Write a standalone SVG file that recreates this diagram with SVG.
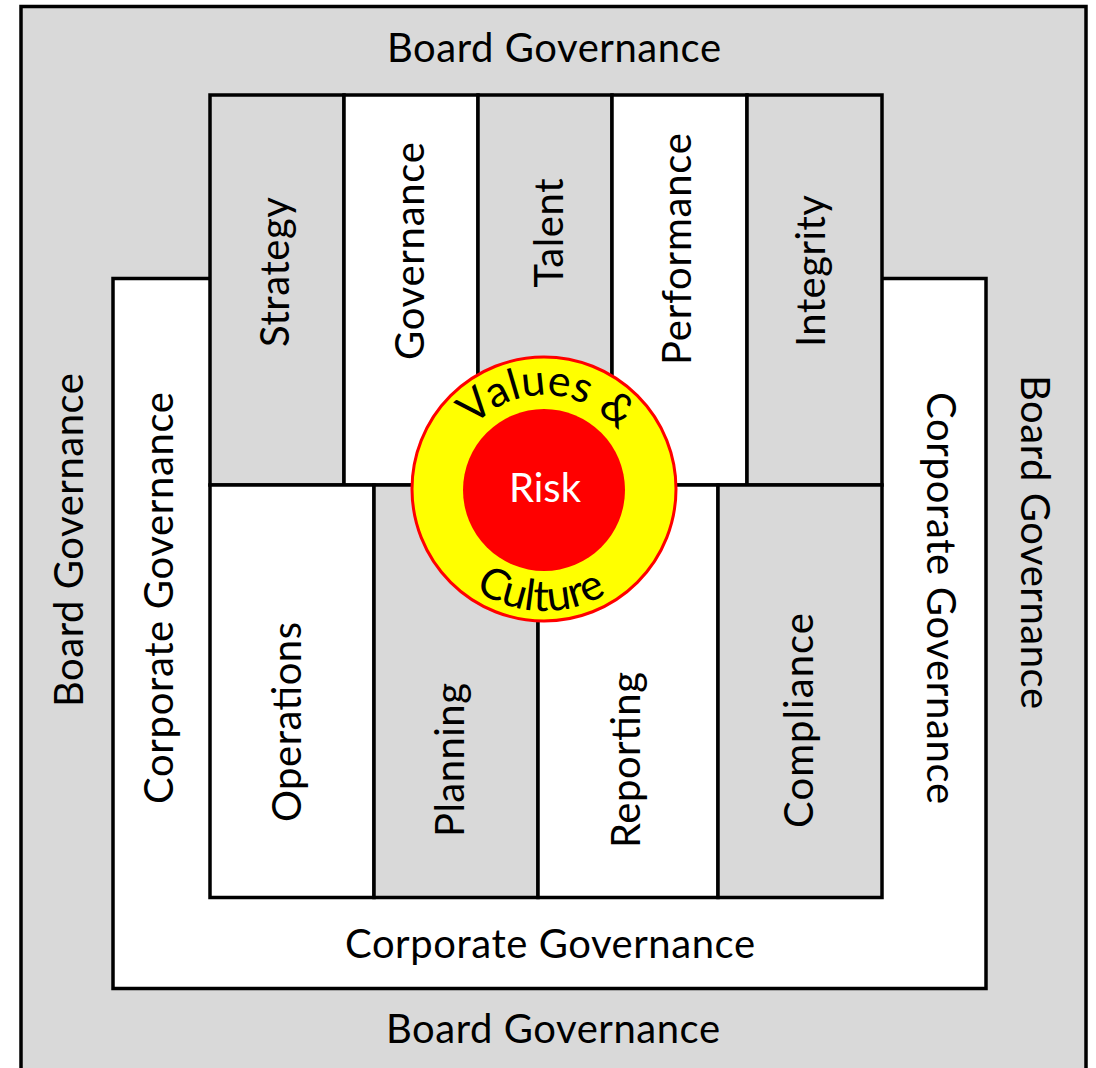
<svg xmlns="http://www.w3.org/2000/svg" width="1096" height="1068" viewBox="0 0 1096 1068">
  <style>
    .box { stroke: #000; stroke-width: 3.5; }
    .grey { fill: #d9d9d9; }
    .white { fill: #ffffff; }
    .lbl { font-family: Lato, "Liberation Sans", sans-serif; font-size: 40px; fill: #000; text-anchor: middle; }
    .arc { font-family: Lato, "Liberation Sans", sans-serif; font-size: 43px; fill: #000; text-anchor: middle; }
    .risk { font-family: Lato, "Liberation Sans", sans-serif; font-size: 40px; fill: #fff; text-anchor: middle; }
  </style>
  <defs>
    <path id="arcTop" d="M450,489 A94,94 0 0 1 638,489"/>
    <path id="arcBottom" d="M422,489 A122,122 0 0 0 666,489"/>
  </defs>

  <rect width="1096" height="1068" fill="#ffffff"/>

  <!-- outer frame: board governance -->
  <g id="board-governance">
    <rect class="box grey" x="21" y="6.5" width="1065" height="1090"/>
    <text class="lbl" x="554" y="62" textLength="334">Board Governance</text>
    <text class="lbl" x="553" y="1043" textLength="334">Board Governance</text>
    <text class="lbl" transform="translate(83,540) rotate(-90)" textLength="334">Board Governance</text>
    <text class="lbl" transform="translate(1021,542) rotate(90)" textLength="334">Board Governance</text>
  </g>

  <!-- corporate governance band -->
  <g id="corporate-governance">
    <rect class="box white" x="113" y="278.5" width="873" height="710"/>
    <text class="lbl" x="550" y="958" textLength="410">Corporate Governance</text>
    <text class="lbl" transform="translate(173,598) rotate(-90)" textLength="412">Corporate Governance</text>
    <text class="lbl" transform="translate(927,598) rotate(90)" textLength="412">Corporate Governance</text>
  </g>

  <!-- upper row of pillars -->
  <g id="strategy">
    <rect class="box grey" x="210" y="95" width="134" height="390"/>
    <text class="lbl" transform="translate(289,272) rotate(-90)" textLength="150">Strategy</text>
  </g>
  <g id="governance">
    <rect class="box white" x="344" y="95" width="134" height="390"/>
    <text class="lbl" transform="translate(424,251) rotate(-90)" textLength="218">Governance</text>
  </g>
  <g id="talent">
    <rect class="box grey" x="478" y="95" width="134" height="390"/>
    <text class="lbl" transform="translate(563,233) rotate(-90)" textLength="109">Talent</text>
  </g>
  <g id="performance">
    <rect class="box white" x="612" y="95" width="135" height="390"/>
    <text class="lbl" transform="translate(691,249) rotate(-90)" textLength="232">Performance</text>
  </g>
  <g id="integrity">
    <rect class="box grey" x="747" y="95" width="135" height="390"/>
    <text class="lbl" transform="translate(825,271) rotate(-90)" textLength="152">Integrity</text>
  </g>

  <!-- lower row of pillars -->
  <g id="operations">
    <rect class="box white" x="210" y="485" width="164" height="412.5"/>
    <text class="lbl" transform="translate(301,722) rotate(-90)" textLength="200">Operations</text>
  </g>
  <g id="planning">
    <rect class="box grey" x="374" y="485" width="164" height="412.5"/>
    <text class="lbl" transform="translate(464,760) rotate(-90)" textLength="154">Planning</text>
  </g>
  <g id="reporting">
    <rect class="box white" x="538" y="485" width="180" height="412.5"/>
    <text class="lbl" transform="translate(640,760) rotate(-90)" textLength="176">Reporting</text>
  </g>
  <g id="compliance">
    <rect class="box grey" x="718" y="485" width="164" height="412.5"/>
    <text class="lbl" transform="translate(813,720.5) rotate(-90)" textLength="215">Compliance</text>
  </g>

  <!-- central target: values & culture around risk -->
  <g id="values-culture">
    <circle cx="544" cy="489" r="132" fill="#ffff00" stroke="#ff0000" stroke-width="3"/>
    <text class="arc"><textPath href="#arcTop" startOffset="51%">Values &amp;</textPath></text>
    <text class="arc"><textPath href="#arcBottom" startOffset="49%">Culture</textPath></text>
  </g>
  <g id="risk">
    <circle cx="544" cy="490" r="81" fill="#ff0000"/>
    <text class="risk" x="545" y="502">Risk</text>
  </g>
</svg>
